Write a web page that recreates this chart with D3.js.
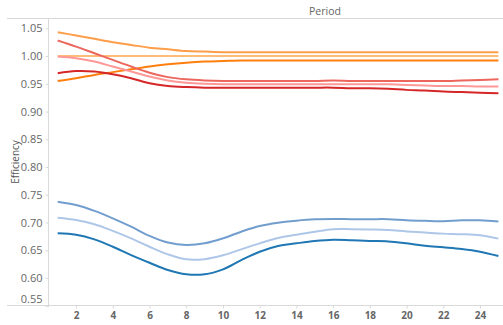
<!DOCTYPE html>
<html><head><meta charset="utf-8">
<script src="https://cdn.jsdelivr.net/npm/d3@7"></script>
<style>body{margin:0;background:#fff;} text{font-family:"Open Sans","DejaVu Sans",sans-serif;}</style>
</head><body>
<svg id="c" width="503" height="325"></svg>
<script>
const periods = d3.range(1, 26);
const yTicks = [0.55,0.60,0.65,0.70,0.75,0.80,0.85,0.90,0.95,1.00,1.05];
const xTicks = [2,4,6,8,10,12,14,16,18,20,22,24];
const seriesNames = ["Orange medium","Orange light","Orange dark","Red medium","Red light","Red dark","Blue medium","Blue light","Blue dark"];
const seriesColors = ["#ff9e4a","#ffbb78","#ff7f0e","#ed665d","#ff9896","#d62728","#729ece","#aec7e8","#1f77b4"];
const orangeMedium = [1.043,1.037,1.031,1.025,1.020,1.015,1.012,1.009,1.008,1.007,1.007,1.007,1.007,1.007,1.007,1.007,1.007,1.007,1.007,1.007,1.007,1.007,1.007,1.007,1.007];
const orangeLight  = [1.000,1.000,1.000,1.000,1.000,1.000,1.000,1.000,1.000,1.000,1.000,1.000,1.000,1.000,1.000,1.000,1.000,1.000,1.000,1.000,1.000,1.000,1.000,1.000,1.000];
const orangeDark   = [0.955,0.960,0.966,0.971,0.976,0.981,0.985,0.988,0.990,0.991,0.992,0.992,0.992,0.992,0.992,0.992,0.992,0.992,0.992,0.992,0.992,0.992,0.992,0.992,0.992];
const redMedium    = [1.028,1.017,1.005,0.993,0.981,0.970,0.962,0.958,0.956,0.955,0.955,0.955,0.955,0.955,0.955,0.956,0.955,0.955,0.955,0.955,0.955,0.955,0.956,0.957,0.958];
const redLight     = [0.999,0.996,0.990,0.981,0.972,0.963,0.956,0.952,0.950,0.949,0.949,0.949,0.949,0.949,0.949,0.949,0.949,0.949,0.949,0.948,0.947,0.946,0.946,0.945,0.945];
const redDark      = [0.969,0.973,0.972,0.967,0.960,0.951,0.946,0.944,0.943,0.943,0.943,0.943,0.943,0.943,0.943,0.943,0.942,0.942,0.941,0.939,0.938,0.936,0.935,0.934,0.933];
const blueMedium   = [0.7375,0.7315,0.721,0.7076,0.6925,0.676,0.664,0.6595,0.6625,0.6715,0.6835,0.6937,0.6997,0.7033,0.7057,0.7063,0.706,0.706,0.706,0.704,0.703,0.7025,0.704,0.704,0.702];
const blueLight    = [0.7087,0.7045,0.697,0.685,0.6715,0.6564,0.6427,0.6337,0.634,0.641,0.6517,0.6625,0.672,0.678,0.6835,0.688,0.688,0.6875,0.6865,0.684,0.682,0.680,0.679,0.677,0.671];
const blueDark     = [0.6805,0.678,0.6697,0.6564,0.6414,0.6276,0.6144,0.6067,0.6067,0.6157,0.6324,0.6474,0.6577,0.6625,0.6667,0.669,0.668,0.6667,0.666,0.6625,0.658,0.6553,0.6523,0.6474,0.6396];
const seriesValues = [orangeMedium,orangeLight,orangeDark,redMedium,redLight,redDark,blueMedium,blueLight,blueDark];

const svg = d3.select("#c");
const x = d3.scaleLinear().domain([0.5, 25.25]).range([48.5, 503]);
const y = d3.scaleLinear().domain([0.5505, 1.0685]).range([305.5, 18]);

// header
svg.append("line").attr("x1",7).attr("x2",503).attr("y1",18.5).attr("y2",18.5).attr("stroke","#d9d9d9");
svg.append("text").attr("x",325).attr("y",15).attr("text-anchor","middle").attr("font-size",10.5).attr("fill","#666").text("Period");

// axes lines
svg.append("line").attr("x1",48.5).attr("x2",48.5).attr("y1",18.5).attr("y2",307).attr("stroke","#d9d9d9");
svg.append("line").attr("x1",7).attr("x2",503).attr("y1",305.5).attr("y2",305.5).attr("stroke","#d9d9d9");

// y axis
const ya = svg.append("g").attr("transform","translate(48.5,0)")
  .call(d3.axisLeft(y).tickValues(yTicks).tickFormat(d3.format(".2f")).tickSize(3).tickPadding(3));
ya.select(".domain").remove();
ya.selectAll(".tick line").attr("stroke","#d9d9d9");
ya.selectAll(".tick text").attr("font-size",11).attr("fill","#666").attr("font-family","\"Open Sans\",sans-serif")
  .attr("dy", d => d < 0.56 ? "-0.3em" : "0.32em");

// x axis
const xa = svg.append("g").attr("transform","translate(0,305.5)")
  .call(d3.axisBottom(x).tickValues(xTicks).tickFormat(d3.format("d")).tickSize(3).tickPadding(3));
xa.select(".domain").remove();
xa.selectAll(".tick line").attr("stroke","#d9d9d9");
xa.selectAll(".tick text").attr("font-size",10).attr("font-weight","bold").attr("fill","#666").attr("font-family","\"Open Sans\",sans-serif");

// y label
svg.append("text").attr("transform","translate(19,162) rotate(-90)").attr("text-anchor","middle")
  .attr("font-size",10).attr("fill","#555").text("Efficiency");

// lines
const line = d3.line().x((d,i)=>x(periods[i])).y(d=>y(d)).curve(d3.curveCatmullRom.alpha(0.5));
svg.append("g").selectAll("path").data(seriesValues).join("path")
  .attr("d", line).attr("fill","none").attr("stroke",(d,i)=>seriesColors[i]).attr("stroke-width",2);
</script>
</body></html>
